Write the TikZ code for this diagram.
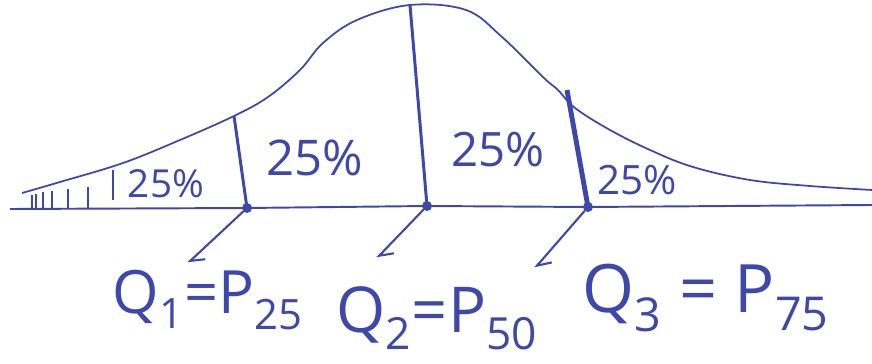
\documentclass[tikz,border=0pt]{standalone}
\usepackage{fontspec}
\setmainfont{Open Sans}
\usetikzlibrary{arrows.meta}
\usetikzlibrary{calc}
\definecolor{ink}{RGB}{62,72,170}
\newcommand{\drawarrow}{\draw[ink, line width=1.2pt, line cap=round, shorten <=3pt, -{Straight Barb[left, length=2.4mm, width=3.6mm]}]}
\newcommand{\pctsize}[1]{\fontsize{#1}{#1}\selectfont}

\begin{document}
\begin{tikzpicture}[x=0.02cm, y=-0.02cm,
    pct/.style={text=ink, inner sep=0pt, font=\pctsize{24}},
    qlabel/.style={text=ink, inner sep=0pt, font=\pctsize{34}}]
    \useasboundingbox (0,0) rectangle (872,364);

    % Draw quartile points
    \coordinate (q1t) at (234,116);
    \coordinate (q1b) at (247,208);
    \coordinate (q2t) at (410,5);
    \coordinate (q2b) at (427,206);
    \coordinate (q3t) at (567,90);
    \coordinate (q3b) at (588,207);
    \coordinate (a0) at (10,209);
    \coordinate (a1) at (872,205);

    % Draw axis and curve
    \draw[ink, line width=1.1pt] (a0) -- (q1b) -- (q2b) -- (q3b) -- (a1);
    \draw[ink, line width=1pt] plot[smooth, tension=0.6] coordinates {
        (22,193) (60,182) (123,163) (180,140) (234,116) (268,97) (300,70)
        (323,43) (357,20) (410,5) (466,10) (502,37) (544,78) (558,90)
        (575,108) (610,130) (650,150) (693,167) (750,180) (810,186) (872,190)};

    % Draw hatching
    \foreach \x/\t in {32/195, 36/194, 43/192, 52/191, 68/189, 88/187}
        \draw[ink, line width=1.1pt] (\x,208) -- (\x,\t);
    \draw[ink, line width=1.3pt] (113,170) -- (113,200);

    % Draw quartile lines
    \draw[ink, line width=1.7pt] (q1t) -- (q1b);
    \draw[ink, line width=1.7pt] (q2t) -- (q2b);
    \draw[ink, line width=2.8pt] (q3t) -- (q3b);
    \fill[ink] (q1b) circle (5);
    \fill[ink] (q2b) circle (5);
    \fill[ink] (q3b) circle (5);

    % Draw arrows
    \coordinate (t1) at (188,263);
    \coordinate (t2) at (377,258);
    \coordinate (t3) at (535,268);
    \drawarrow (q1b) -- (t1);
    \drawarrow (q2b) -- (t2);
    \drawarrow (q3b) -- (t3);

    \node[pct, font=\pctsize{22}] (p1) at (166,184) {25\%};
    \node[pct, font=\pctsize{28}] (p2) at (315,158) {25\%};
    \node[pct, font=\pctsize{27}] (p3) at (498,150) {25\%};
    \node[pct, font=\pctsize{23}] (p4) at (637,180) {25\%};

    \node[qlabel] (lq1) at (208,300) {Q\textsubscript{1}=P\textsubscript{25}};
    \node[qlabel, font=\pctsize{36}] (lq2) at (437,318) {Q\textsubscript{2}=P\textsubscript{50}};
    \node[qlabel, font=\pctsize{38}] (lq3) at (706,298) {Q\textsubscript{3} = P\textsubscript{75}};
\end{tikzpicture}
\end{document}
